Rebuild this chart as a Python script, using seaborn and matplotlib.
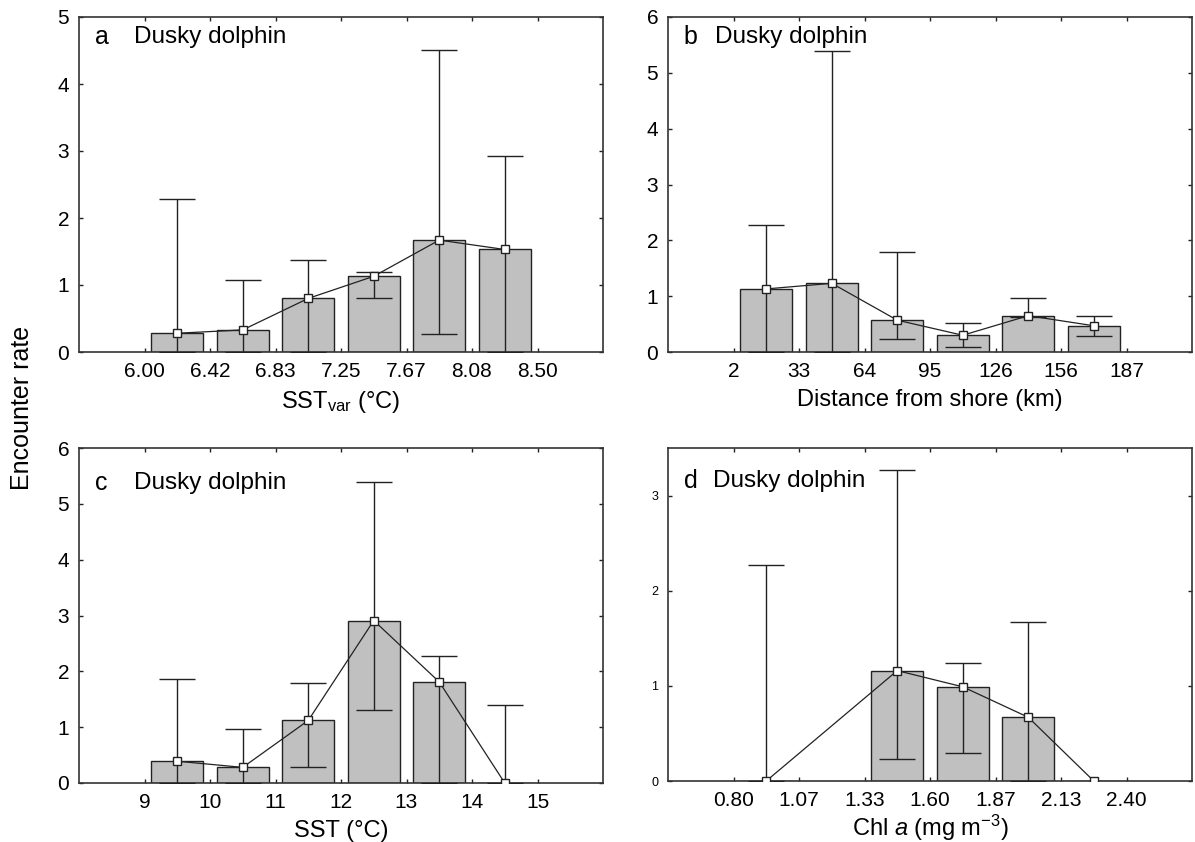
import numpy as np
import matplotlib
matplotlib.use("Agg")
import matplotlib.pyplot as plt
import seaborn as sns

# --- data ---
# a: SST_var bins
sstvar_ticks = ["6.00", "6.42", "6.83", "7.25", "7.67", "8.08", "8.50"]
sstvar_mean = [0.28, 0.33, 0.80, 1.13, 1.67, 1.53]
sstvar_low = [0.0, 0.0, 0.0, 0.80, 0.27, 0.0]
sstvar_up = [2.28, 1.07, 1.37, 1.19, 4.51, 2.92]

# b: distance from shore bins
dist_ticks = ["2", "33", "64", "95", "126", "156", "187"]
dist_mean = [1.13, 1.23, 0.57, 0.30, 0.65, 0.47]
dist_low = [0.0, 0.0, 0.23, 0.09, 0.63, 0.28]
dist_up = [2.28, 5.39, 1.79, 0.52, 0.96, 0.65]

# c: SST bins
sst_ticks = ["9", "10", "11", "12", "13", "14", "15"]
sst_mean = [0.39, 0.28, 1.12, 2.91, 1.81, 0.0]
sst_low = [0.0, 0.0, 0.29, 1.30, 0.0, 0.0]
sst_up = [1.87, 0.96, 1.79, 5.40, 2.28, 1.39]

# d: Chl a bins (nan = no data in that bin)
chl_ticks = ["0.80", "1.07", "1.33", "1.60", "1.87", "2.13", "2.40"]
chl_mean = [0.0, np.nan, 1.16, 0.99, 0.67, 0.0]
chl_low = [0.0, np.nan, 0.235, 0.29, 0.0, np.nan]
chl_up = [2.27, np.nan, 3.27, 1.24, 1.67, np.nan]

sns.set_theme(style="ticks")
plt.rcParams["font.family"] = ["Liberation Sans", "DejaVu Sans"]
plt.rcParams["mathtext.fontset"] = "custom"
plt.rcParams["mathtext.rm"] = "Liberation Sans"
plt.rcParams["mathtext.it"] = "Liberation Sans:italic"
plt.rcParams["axes.linewidth"] = 1.2
plt.rcParams["axes.edgecolor"] = "#333333"
plt.rcParams["text.color"] = "black"
plt.rcParams["axes.labelcolor"] = "black"

INK = "#222222"
BAR = "#c0c0c0"


def panel(ax, ticks, mean, low, up, letter, xlabel, ymax, label_y=0.94,
          small_y=False, pad=6, name_x=0.105):
    mean = np.asarray(mean, float)
    low = np.asarray(low, float)
    up = np.asarray(up, float)
    centers = np.arange(len(mean)) + 0.5

    ok = ~np.isnan(mean)
    sns.barplot(x=centers[ok], y=mean[ok], native_scale=True, width=0.8,
                color=BAR, saturation=1, edgecolor=INK, linewidth=1,
                errorbar=None, ax=ax, zorder=2)

    eb = ~np.isnan(up)
    ax.errorbar(centers[eb], mean[eb],
                yerr=[mean[eb] - low[eb], up[eb] - mean[eb]],
                fmt="none", ecolor=INK, elinewidth=1, capsize=13, capthick=1, zorder=3)

    sns.lineplot(x=centers[ok], y=mean[ok], ax=ax, color=INK, lw=0.9,
                 marker="s", markersize=5.5, markerfacecolor="white",
                 markeredgecolor=INK, markeredgewidth=1, errorbar=None, zorder=4)

    ax.set_xlim(-1, len(ticks))
    ax.set_xticks(np.arange(len(ticks)))
    ax.set_xticklabels(ticks)
    ax.set_ylim(0, ymax)
    ax.set_yticks(np.arange(0, int(ymax) + 1))
    ax.tick_params(direction="in", top=True, right=True, length=3, width=1,
                   labelsize=15, pad=7, colors=INK, labelcolor="black")
    if small_y:
        ax.tick_params(axis="y", labelsize=9)
    ax.set_xlabel(xlabel, fontsize=17, labelpad=pad)
    ax.set_ylabel("")
    for s in ax.spines.values():
        s.set_visible(True)
    ax.text(0.03, label_y, letter, transform=ax.transAxes, fontsize=18, va="center")
    ax.text(name_x, label_y, "Dusky dolphin", transform=ax.transAxes, fontsize=17.5, va="center")


fig = plt.figure(figsize=(11.95, 8.42), dpi=100)
W, H = 1195, 842
ax_a = fig.add_axes([79 / W, 1 - 352 / H, 524 / W, 335 / H])
ax_b = fig.add_axes([668 / W, 1 - 352 / H, 524 / W, 335 / H])
ax_c = fig.add_axes([79 / W, 1 - 783 / H, 524 / W, 335 / H])
ax_d = fig.add_axes([668 / W, 1 - 781 / H, 524 / W, 333 / H])

panel(ax_a, sstvar_ticks, sstvar_mean, sstvar_low, sstvar_up, "a",
      r"SST$_{\mathrm{var}}$ (°C)", 5)
panel(ax_b, dist_ticks, dist_mean, dist_low, dist_up, "b",
      "Distance from shore (km)", 6, name_x=0.09)
panel(ax_c, sst_ticks, sst_mean, sst_low, sst_up, "c",
      "SST (°C)", 6, label_y=0.895)
panel(ax_d, chl_ticks, chl_mean, chl_low, chl_up, "d",
      r"Chl $\mathit{a}$ (mg m$^{\mathrm{-3}}$)", 3.5, label_y=0.90,
      small_y=True, pad=2, name_x=0.085)

fig.text(0.018, 1 - 408 / H, "Encounter rate", rotation=90, fontsize=18,
         va="center", ha="center")

fig.savefig("out.png", dpi=100)
